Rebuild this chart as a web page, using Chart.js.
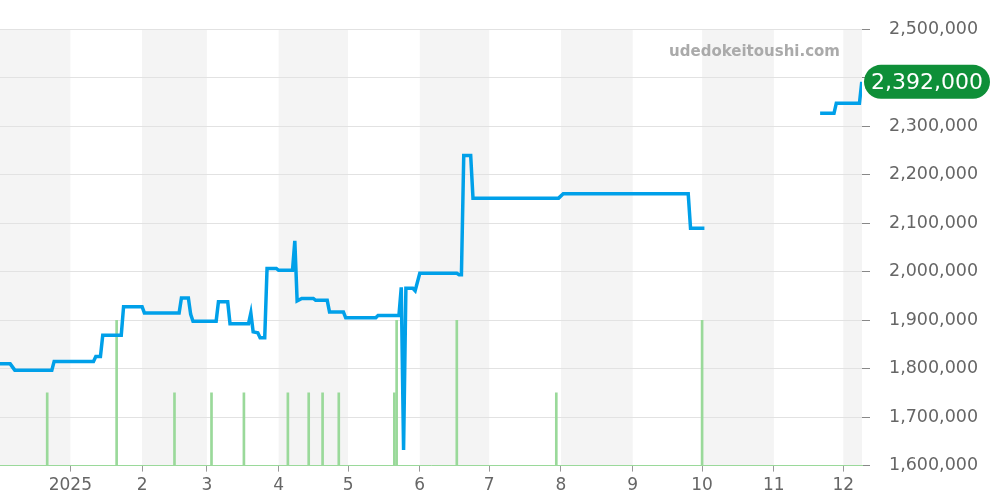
<!DOCTYPE html>
<html>
<head>
<meta charset="utf-8">
<script src="https://cdn.jsdelivr.net/npm/chart.js@4"></script>
<style>
  html, body { margin: 0; padding: 0; background: #fff; }
  #wrap { width: 1000px; height: 500px; }
</style>
</head>
<body>
<div id="wrap"><canvas id="price"></canvas></div>
<script>
// price line (null = no data)
var priceDates = [
    '2024-12-01', '2024-12-06', '2024-12-08', '2024-12-24', '2024-12-25', '2025-01-11', '2025-01-12',
    '2025-01-14', '2025-01-15', '2025-01-23', '2025-01-24', '2025-02-01', '2025-02-02', '2025-02-17',
    '2025-02-18', '2025-02-21', '2025-02-22', '2025-02-23', '2025-03-05', '2025-03-06', '2025-03-10',
    '2025-03-11', '2025-03-19', '2025-03-20', '2025-03-21', '2025-03-23', '2025-03-24', '2025-03-26',
    '2025-03-27', '2025-03-31', '2025-04-01', '2025-04-07', '2025-04-08', '2025-04-09', '2025-04-11',
    '2025-04-16', '2025-04-17', '2025-04-22', '2025-04-23', '2025-04-29', '2025-04-30', '2025-05-13',
    '2025-05-14', '2025-05-23', '2025-05-24', '2025-05-25', '2025-05-26', '2025-05-29', '2025-05-30',
    '2025-06-01', '2025-06-17', '2025-06-18', '2025-06-19', '2025-06-20', '2025-06-23', '2025-06-24',
    '2025-07-31', '2025-08-02', '2025-09-25', '2025-09-26', '2025-10-02', '2025-10-03', '2025-11-21',
    '2025-11-27', '2025-11-28', '2025-12-08', '2025-12-09'
];
var priceValues = [
    1810000, 1810000, 1797000, 1797000, 1815000, 1815000, 1825000,
    1825000, 1869000, 1869000, 1928000, 1928000, 1915000, 1915000,
    1946000, 1946000, 1912000, 1898000, 1898000, 1938000, 1938000,
    1893000, 1893000, 1915000, 1876000, 1874000, 1864000, 1864000,
    2007000, 2007000, 2003000, 2003000, 2064000, 1940000, 1945000,
    1945000, 1941000, 1941000, 1917000, 1917000, 1905000, 1905000,
    1910000, 1910000, 1968000, 1632000, 1966000, 1966000, 1961000,
    1997000, 1997000, 1994000, 1994000, 2240000, 2240000, 2152000,
    2152000, 2161000, 2161000, 2090000, 2090000, null, 2327000,
    2327000, 2348000, 2348000, 2392000
];

// trade counts
var volumeDates = [
    '2024-12-22', '2025-01-21', '2025-02-15', '2025-03-03', '2025-03-17', '2025-04-05', '2025-04-14',
    '2025-04-20', '2025-04-27', '2025-05-21', '2025-05-22', '2025-06-17', '2025-07-30', '2025-10-01'
];
var volumeValues = [1, 2, 1, 1, 1, 1, 1, 1, 1, 1, 2, 2, 1, 2];

// month ticks
var monthStarts = [
    '2025-01-01', '2025-02-01', '2025-03-01', '2025-04-01', '2025-05-01', '2025-06-01',
    '2025-07-01', '2025-08-01', '2025-09-01', '2025-10-01', '2025-11-01', '2025-12-01'
];
var monthLabels = ['2025', '2', '3', '4', '5', '6', '7', '8', '9', '10', '11', '12'];
var bandStarts = ['2024-12-01'].concat(monthStarts, ['2026-01-01']);

var yTicks = [1600000, 1700000, 1800000, 1900000, 2000000, 2100000, 2200000, 2300000, 2400000, 2500000];

// days since 2024-12-01
function dayNo(s) {
    var p = s.split('-');
    return (Date.UTC(+p[0], +p[1] - 1, +p[2]) - Date.UTC(2024, 11, 1)) / 86400000;
}

var pricePoints = priceDates.map(function (d, i) { return { x: dayNo(d), y: priceValues[i] }; });
var volumePoints = volumeDates.map(function (d, i) { return { x: dayNo(d), y: volumeValues[i] }; });
var lastPrice = priceValues[priceValues.length - 1];

// alternating month background
var bands = {
    id: 'bands',
    beforeDraw: function (chart) {
        var ctx = chart.ctx, a = chart.chartArea, xs = chart.scales.x;
        ctx.save();
        ctx.fillStyle = '#f4f4f4';
        for (var i = 0; i < bandStarts.length - 1; i += 2) {
            var l = Math.max(a.left, xs.getPixelForValue(dayNo(bandStarts[i])));
            var r = Math.min(a.right, xs.getPixelForValue(dayNo(bandStarts[i + 1])));
            if (r > l) ctx.fillRect(l, a.top, r - l, a.bottom - a.top);
        }
        ctx.restore();
    }
};

// watermark + last price badge
var extras = {
    id: 'extras',
    afterDraw: function (chart) {
        var ctx = chart.ctx, a = chart.chartArea;
        ctx.save();
        ctx.font = 'bold 15px "DejaVu Sans"';
        ctx.fillStyle = '#aaaaaa';
        ctx.textAlign = 'right';
        ctx.textBaseline = 'middle';
        ctx.fillText('udedokeitoushi.com', a.right - 22, 52);

        var y = chart.scales.y.getPixelForValue(lastPrice);
        var x0 = a.right + 2, w = 126, h = 34, r = 17;
        ctx.fillStyle = '#0e8f38';
        ctx.beginPath();
        ctx.roundRect(x0, y - h / 2, w, h, r);
        ctx.fill();
        ctx.fillStyle = '#ffffff';
        ctx.font = '22px "DejaVu Sans"';
        ctx.textAlign = 'center';
        ctx.fillText(lastPrice.toLocaleString('en-US'), x0 + w / 2, y + 1);
        ctx.restore();
    }
};

var ctx = document.getElementById('price').getContext('2d');
var chart = new Chart(ctx, {
    data: {
        datasets: [{
            type: 'line',
            label: 'price',
            data: pricePoints,
            borderColor: '#00a0e9',
            borderWidth: 3.5,
            pointRadius: 0,
            tension: 0,
            spanGaps: false,
            yAxisID: 'y',
            order: 1
        }, {
            type: 'bar',
            label: 'volume',
            data: volumePoints,
            backgroundColor: '#9ad99a',
            barThickness: 2,
            yAxisID: 'y2',
            order: 2
        }]
    },
    options: {
        responsive: true,
        maintainAspectRatio: false,
        animation: false,
        layout: { padding: { top: 23, left: 0, right: 0, bottom: 0 } },
        plugins: {
            legend: { display: false },
            tooltip: { enabled: false }
        },
        scales: {
            x: {
                type: 'linear',
                min: 0.6,
                max: 373.1,
                offset: false,
                afterBuildTicks: function (scale) {
                    scale.ticks = monthStarts.map(function (d) { return { value: dayNo(d) }; });
                },
                ticks: {
                    autoSkip: false,
                    maxRotation: 0,
                    padding: 4,
                    color: '#666',
                    font: { family: 'DejaVu Sans', size: 17 },
                    callback: function (v, i) { return monthLabels[i]; }
                },
                grid: { offset: false, drawOnChartArea: false, tickLength: 6, color: '#999' },
                border: { color: '#9ad99a', dash: [1, 1] }
            },
            y: {
                position: 'right',
                min: 1600000,
                max: 2500000,
                afterBuildTicks: function (scale) {
                    scale.ticks = yTicks.map(function (v) { return { value: v }; });
                },
                afterFit: function (scale) { scale.width = 138; },
                ticks: {
                    padding: 19,
                    color: '#666',
                    font: { family: 'DejaVu Sans', size: 17.5 },
                    callback: function (v) { return v.toLocaleString('en-US'); }
                },
                grid: { color: '#e2e2e2', tickLength: 8, tickColor: '#888' },
                border: { display: false }
            },
            y2: {
                display: false,
                min: 0,
                max: 6
            }
        }
    },
    plugins: [bands, extras]
});
</script>
</body>
</html>
